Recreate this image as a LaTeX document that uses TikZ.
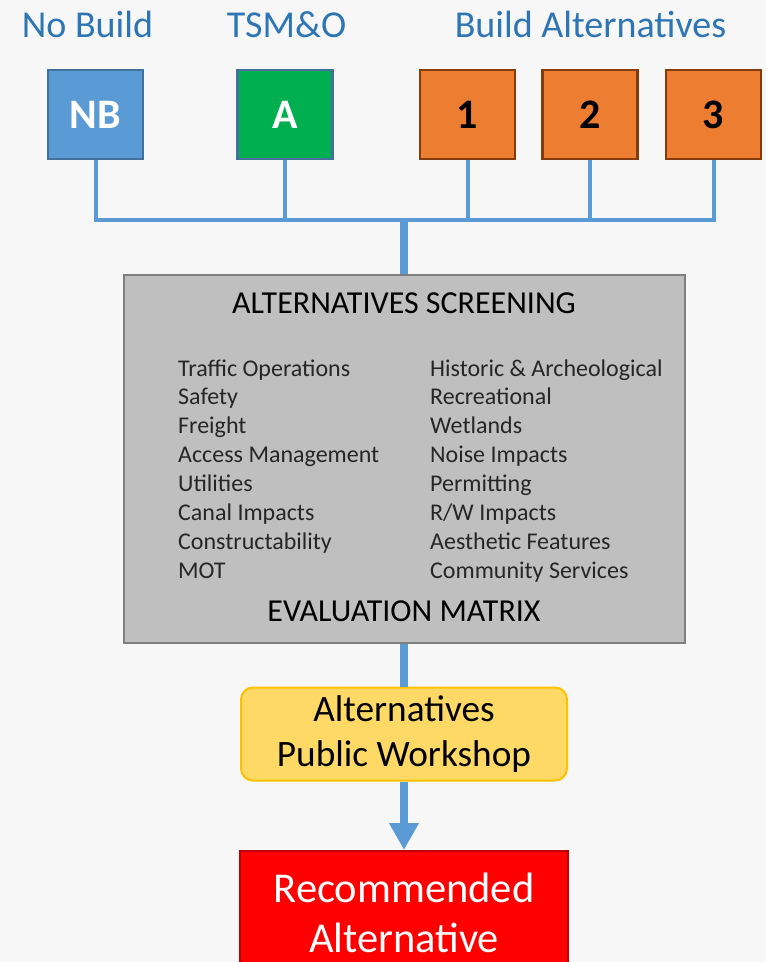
\documentclass[tikz,border=0pt]{standalone}
\usepackage{fontspec}
\setmainfont{Carlito}
\usetikzlibrary{arrows.meta}
\definecolor{bg}{RGB}{247,247,247}
\definecolor{labelblue}{RGB}{46,117,182}
\definecolor{linkblue}{RGB}{91,155,213}
\definecolor{nbfill}{RGB}{91,155,213}
\definecolor{nbborder}{RGB}{65,113,156}
\definecolor{afill}{RGB}{0,176,80}
\definecolor{ofill}{RGB}{237,125,49}
\definecolor{oborder}{RGB}{132,60,12}
\definecolor{scrfill}{RGB}{191,191,191}
\definecolor{scrborder}{RGB}{127,127,127}
\definecolor{wsfill}{RGB}{255,217,102}
\definecolor{wsborder}{RGB}{255,192,0}
\definecolor{recfill}{RGB}{255,0,0}
\definecolor{recborder}{RGB}{192,0,0}
\definecolor{itemtext}{RGB}{38,38,38}
\tikzset{
  toplabel/.style={anchor=base, text=labelblue, font=\fontsize{38}{45}\selectfont, inner sep=0},
  altbox/.style={draw, line width=2.5pt, minimum width=95pt, minimum height=89pt, inner sep=0,
    font=\fontsize{42}{50}\selectfont\bfseries},
  bus/.style={draw=linkblue, line width=4pt},
  trunk/.style={draw=linkblue, line width=8pt},
  scrbox/.style={draw=scrborder, fill=scrfill, line width=2.5pt, minimum width=561pt, minimum height=368pt, inner sep=0},
  heading/.style={anchor=base, text=black, font=\fontsize{32}{38}\selectfont, inner sep=0},
  item/.style={anchor=base west, text=itemtext, font=\fontsize{24}{29}\selectfont, inner sep=0},
  wsbox/.style={draw=wsborder, fill=wsfill, line width=2pt, rounded corners=12pt, minimum width=326pt,
    minimum height=93pt, inner sep=0, align=center, font=\fontsize{37.3}{45}\selectfont},
  recbox/.style={draw=recborder, fill=recfill, line width=2pt, minimum width=328pt,
    minimum height=123pt, inner sep=0, align=center, text=white, font=\fontsize{42.5}{50}\selectfont},
}
\begin{document}
\begin{tikzpicture}[x=1pt,y=-1pt]
\useasboundingbox[fill=bg] (0,0) rectangle (766,962);
\clip (0,0) rectangle (766,962);

% top labels
\node[toplabel] (lnb) at (87.5,37) {No Build};
\node[toplabel] (la) at (286.5,37) {TSM\&O};
\node[toplabel] (lbuild) at (590.5,37) {Build Alternatives};

% alternative boxes
\node[altbox, fill=nbfill, draw=nbborder, text=white] (nb) at (95.5,114.5) {NB};
\node[altbox, fill=afill, draw=nbborder, text=white] (a) at (285,114.5) {A};
\node[altbox, fill=ofill, draw=oborder, text=black] (b1) at (467.5,114.5) {1};
\node[altbox, fill=ofill, draw=oborder, text=black] (b2) at (590,114.5) {2};
\node[altbox, fill=ofill, draw=oborder, text=black] (b3) at (713.5,114.5) {3};

% screening box
\node[scrbox] (scr) at (404.5,459) {};
\coordinate (bus) at (404,220);

% bus connectors
\draw[bus] (nb.south) -- (nb.south |- bus);
\draw[bus] (a.south) -- (a.south |- bus);
\draw[bus] (b1.south) -- (b1.south |- bus);
\draw[bus] (b2.south) -- (b2.south |- bus);
\draw[bus] (b3.south) -- (b3.south |- bus);
\draw[bus, line cap=rect] (nb.south |- bus) -- (b3.south |- bus);
\draw[trunk] (bus) -- (bus |- scr.north);

% screening content
\node[heading] (scrtitle) at (404,313) {ALTERNATIVES SCREENING};
\node[heading] (scrfoot) at (404,621) {EVALUATION MATRIX};
\foreach \t [count=\i] in {Traffic Operations, Safety, Freight, Access Management, Utilities, Canal Impacts, Constructability, MOT}
  \node[item] (l\i) at (178,{376+28.9*(\i-1)}) {\t};
\foreach \t [count=\i] in {Historic \& Archeological, Recreational, Wetlands, Noise Impacts, Permitting, R/W Impacts, Aesthetic Features, Community Services}
  \node[item] (r\i) at (430,{376+28.9*(\i-1)}) {\t};

% workshop
\node[wsbox] (ws) at (404,734) {Alternatives\\Public Workshop};
\draw[trunk] (scr.south -| bus) -- (ws.north -| bus);

% recommended
\node[recbox] (rec) at (404,912.5) {Recommended\\Alternative};
\draw[trunk, -{Triangle[width=28pt,length=27pt]}] (ws.south -| bus) -- (rec.north -| bus);
\end{tikzpicture}
\end{document}
